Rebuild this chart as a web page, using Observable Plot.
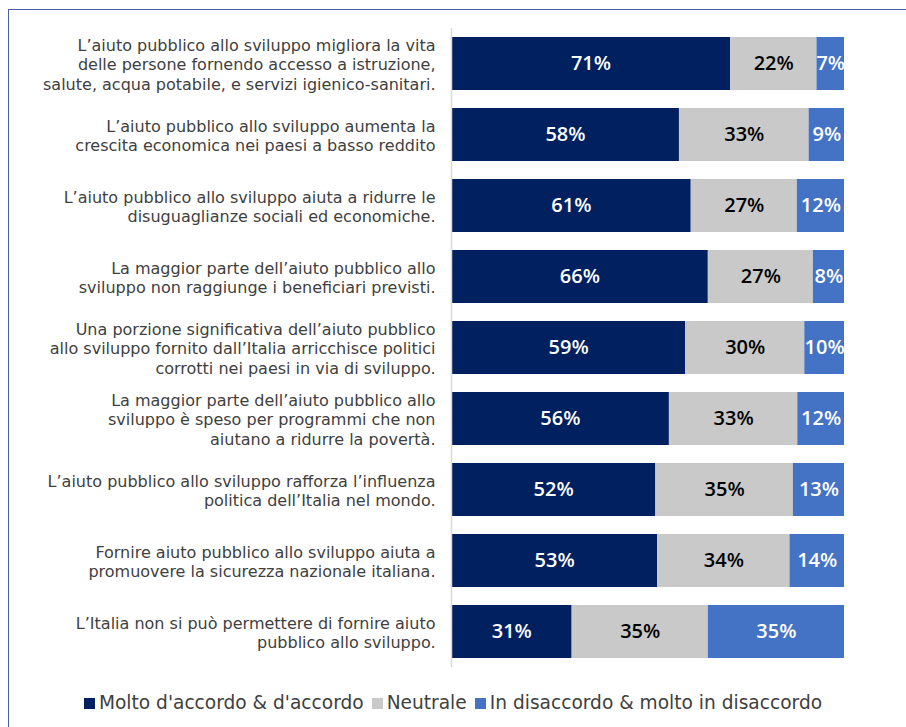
<!DOCTYPE html>
<html>
<head>
<meta charset="utf-8">
<script src="https://cdn.jsdelivr.net/npm/d3@7"></script>
<script src="https://cdn.jsdelivr.net/npm/@observablehq/plot@0.6"></script>
<style>
  html, body { margin: 0; padding: 0; background: #fff; }
  #wrap { position: relative; width: 906px; height: 727px; overflow: hidden; }
  #frame { position: absolute; left: 8px; top: 9px; width: 1200px; height: 1200px;
           border-top: 1.5px solid #4a5fa8; border-left: 1.5px solid #4a5fa8; }
  #chart { position: absolute; left: 0; top: 0; }
  #legend { position: absolute; left: 0; top: 692px; width: 906px; text-align: center;
            font-family: "DejaVu Sans", sans-serif; font-size: 18.6px; line-height: 22px; color: #404040; white-space: nowrap; }
  .item { display: inline-block; margin: 0 4px; }
  .sw { display: inline-block; width: 11px; height: 11px; margin-right: 4px; vertical-align: 0px; }
</style>
</head>
<body>
<div id="wrap">
  <div id="frame"></div>
  <div id="chart"></div>
  <div id="legend"></div>
</div>
<script>
const categories = [
  "L\u2019aiuto pubblico allo sviluppo migliora la vita\ndelle persone fornendo accesso a istruzione,\nsalute, acqua potabile, e servizi igienico-sanitari.",
  "L\u2019aiuto pubblico allo sviluppo aumenta la\ncrescita economica nei paesi a basso reddito",
  "L\u2019aiuto pubblico allo sviluppo aiuta a ridurre le\ndisuguaglianze sociali ed economiche.",
  "La maggior parte dell\u2019aiuto pubblico allo\nsviluppo non raggiunge i beneficiari previsti.",
  "Una porzione significativa dell\u2019aiuto pubblico\nallo sviluppo fornito dall\u2019Italia arricchisce politici\ncorrotti nei paesi in via di sviluppo.",
  "La maggior parte dell\u2019aiuto pubblico allo\nsviluppo è speso per programmi che non\naiutano a ridurre la povertà.",
  "L\u2019aiuto pubblico allo sviluppo rafforza l\u2019influenza\npolitica dell\u2019Italia nel mondo.",
  "Fornire aiuto pubblico allo sviluppo aiuta a\npromuovere la sicurezza nazionale italiana.",
  "L\u2019Italia non si può permettere di fornire aiuto\npubblico allo sviluppo."
];
const agree    = [71, 58, 61, 66, 59, 56, 52, 53, 31];
const neutral  = [22, 33, 27, 27, 30, 33, 35, 34, 35];
const disagree = [7, 9, 12, 8, 10, 12, 13, 14, 35];
const seriesNames = ["Molto d'accordo & d'accordo", "Neutrale", "In disaccordo & molto in disaccordo"];
const seriesColors = ["#002060", "#c9c9c9", "#4472c4"];

const rows = [];
categories.forEach((c, i) => {
  [agree[i], neutral[i], disagree[i]].forEach((v, j) => {
    rows.push({cat: c, series: seriesNames[j], value: v});
  });
});

const stackOpts = (extra) => Plot.stackX({offset: "normalize", order: seriesNames, x: "value", y: "cat", z: "series", ...extra});

const chart = Plot.plot({
  width: 906,
  height: 693,
  marginLeft: 451,
  marginRight: 62,
  marginTop: 28,
  marginBottom: 26,
  style: {fontFamily: "'Open Sans', sans-serif", background: "transparent"},
  x: {axis: null, domain: [0, 1]},
  y: {domain: categories, paddingInner: 0.25, paddingOuter: 0.125, label: null},
  color: {domain: seriesNames, range: seriesColors},
  marks: [
    Plot.barX(rows, stackOpts({fill: "series"})),
    Plot.text(rows, stackOpts({
      text: d => d.series === seriesNames[1] ? null : d.value + "%",
      fill: "#ffffff", fontSize: 20, fontWeight: 600
    })),
    Plot.text(rows, stackOpts({
      text: d => d.series === seriesNames[1] ? d.value + "%" : null,
      fill: "#000000", fontSize: 20, fontWeight: 600
    })),
    Plot.ruleX([0], {stroke: "#d9d9d9", strokeWidth: 1.5}),
    Plot.axisY({tickSize: 0, tickPadding: 16, fontSize: 16, lineHeight: 1.22, fill: "#404040",
                fontFamily: "'DejaVu Sans', sans-serif", label: null})
  ]
});
document.getElementById("chart").appendChild(chart);

const legend = document.getElementById("legend");
seriesNames.forEach((name, i) => {
  const item = document.createElement("span");
  item.className = "item";
  const sw = document.createElement("span");
  sw.className = "sw";
  sw.style.background = seriesColors[i];
  item.appendChild(sw);
  item.appendChild(document.createTextNode(name));
  legend.appendChild(item);
});
</script>
</body>
</html>
